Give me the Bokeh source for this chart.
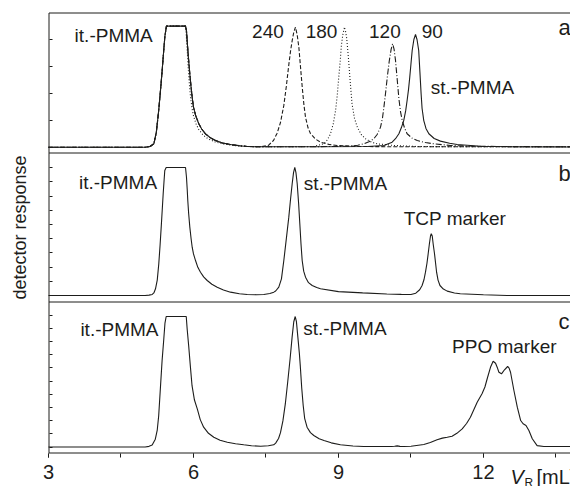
import numpy as np
from bokeh.plotting import figure
from bokeh.models import (Range1d, LinearAxis, FixedTicker, SingleIntervalTicker,
                          ColumnDataSource)
from bokeh.core.properties import value
from bokeh.embed import file_html
from bokeh.resources import INLINE

FONT = "Liberation Sans"
INK = "#1d1d1b"

# elution volume axis [mL]
X_START, X_END = 3.0, 13.8

# ---------------- panel a: it.-PMMA with st.-PMMA of different tacticity ----------------
IT_A_RISE = [(3.0, 0), (5.0, 0), (5.10, 0.5), (5.18, 2.8), (5.23, 12), (5.28, 30.3),
             (5.32, 48), (5.352, 63.4), (5.38, 78), (5.406, 90.9), (5.44, 100), (5.835, 100)]
IT_A_TAIL = [(5.855, 96.4), (5.88, 82), (5.90, 71.6), (5.925, 60), (5.95, 49.6),
             (5.975, 40.5), (6.0, 33.1), (6.05, 25.5), (6.11, 19.3), (6.17, 15),
             (6.248, 11.0), (6.35, 7.8), (6.455, 5.5), (6.6, 3.5), (6.766, 2.2),
             (6.95, 1.2), (7.11, 0.6), (7.4, 0.3)]
IT_A_TAIL_180 = [(5.85, 93), (5.87, 80), (5.89, 66), (5.915, 52), (5.94, 41), (5.97, 32),
                 (6.0, 26), (6.05, 19.5), (6.11, 14.5), (6.2, 10), (6.3, 7), (6.45, 4.3),
                 (6.6, 2.8), (6.8, 1.5), (7.0, 0.8), (7.3, 0.3)]

ST_240 = [(7.55, 1.5), (7.655, 5.5), (7.73, 11.5), (7.80, 20.4), (7.869, 34.5), (7.92, 50),
          (7.972, 68), (8.01, 80), (8.042, 88), (8.075, 95), (8.11, 99.2), (8.145, 93),
          (8.18, 82.6), (8.215, 66), (8.25, 49.6), (8.285, 35), (8.318, 24.7), (8.37, 16),
          (8.42, 11.3), (8.52, 6.8), (8.628, 4.2), (8.8, 2.3), (8.97, 1.4), (9.39, 0.6),
          (10.0, 0.4), (11.0, 0.3), (12.0, 0.3), (13.8, 0.4)]
ST_180 = [(8.0, 0.4), (8.49, 0.6), (8.60, 1.8), (8.696, 2.8), (8.77, 6), (8.835, 11.1),
          (8.89, 19), (8.94, 30.3), (8.975, 43), (9.006, 57.9), (9.035, 71), (9.06, 84),
          (9.09, 93), (9.125, 99.2), (9.15, 95), (9.17, 90), (9.19, 81), (9.21, 71.7),
          (9.245, 53), (9.28, 36.1), (9.33, 24), (9.39, 16.5), (9.47, 10.5), (9.56, 6.9),
          (9.68, 4.2), (9.80, 2.8), (10.14, 1.4), (10.6, 0.6), (11.5, 0.3), (13.8, 0.3)]
ST_120 = [(8.5, 0.4), (9.25, 0.8), (9.40, 1.6), (9.524, 2.8), (9.63, 4.5), (9.73, 6.9),
          (9.80, 10.5), (9.87, 16.5), (9.91, 24), (9.94, 33.1), (9.975, 45), (10.01, 57.9),
          (10.05, 71), (10.09, 81), (10.12, 85.5), (10.15, 81), (10.18, 71.7), (10.215, 56),
          (10.25, 40), (10.285, 29), (10.32, 22), (10.37, 15.5), (10.42, 11.1), (10.52, 7.6),
          (10.63, 5.5), (10.8, 3.8), (10.97, 2.8), (11.32, 1.4), (11.8, 0.8), (12.5, 0.5),
          (13.8, 0.3)]
ST_90 = [(8.5, 0.4), (9.6, 0.5), (9.94, 1.4), (10.11, 4.1), (10.18, 7), (10.25, 11.1),
         (10.30, 16), (10.35, 22), (10.39, 30), (10.42, 38.6), (10.45, 48), (10.475, 57.9),
         (10.50, 69), (10.525, 79.9), (10.56, 89), (10.594, 93.1), (10.625, 89), (10.66, 79.9),
         (10.685, 62), (10.71, 44), (10.73, 32), (10.765, 22), (10.81, 15.5), (10.87, 11.1),
         (10.98, 7.2), (11.11, 5), (11.3, 3.2), (11.456, 2.2), (11.94, 0.8), (12.6, 0.3),
         (13.8, 0.2)]

# run label -> (it.-PMMA tail, st.-PMMA peak, dash pattern)
RUNS_A = [
    ("240", IT_A_TAIL, ST_240, "4 2"),
    ("180", IT_A_TAIL_180, ST_180, "1 2"),
    ("120", IT_A_TAIL, ST_120, "6 2 1 2"),
    ("90", IT_A_TAIL, ST_90, "solid"),
]

# ---------------- panel b: it.-PMMA / st.-PMMA with TCP marker ----------------
TRACE_B = [(3.0, 0), (5.0, 0), (5.08, 0.3), (5.146, 0.8), (5.18, 2), (5.214, 5.2), (5.25, 12),
           (5.282, 24.8), (5.31, 40), (5.332, 53.4), (5.355, 68), (5.373, 79.5), (5.39, 89),
           (5.406, 97.7), (5.435, 100), (5.835, 100), (5.855, 92.4), (5.87, 83), (5.882, 74.2),
           (5.90, 64), (5.924, 53.4), (5.95, 44.5), (5.973, 37.7), (6.0, 32.5), (6.042, 27.3),
           (6.09, 22), (6.145, 18.2), (6.21, 14.5), (6.284, 11.7), (6.38, 8.8), (6.491, 6.5),
           (6.62, 4.3), (6.766, 2.6), (6.95, 1.4), (7.111, 0.8), (7.3, 0.6), (7.455, 0.8),
           (7.58, 1.5), (7.662, 2.6), (7.70, 3.5), (7.765, 6.5), (7.82, 13), (7.869, 27.3),
           (7.92, 44), (7.972, 61.2), (8.01, 76), (8.042, 87.3), (8.07, 96), (8.096, 100),
           (8.12, 96), (8.146, 87.3), (8.175, 72), (8.2, 56), (8.225, 40), (8.249, 27.3),
           (8.28, 19), (8.318, 14.3), (8.38, 10), (8.456, 7.8), (8.55, 6.2), (8.628, 5.2),
           (9.0, 3.0), (9.5, 2.0), (10.0, 1.2), (10.3, 0.9), (10.5, 0.8), (10.60, 1.8),
           (10.68, 4.5), (10.73, 7.8), (10.77, 12.5), (10.8, 18.2), (10.83, 25), (10.856, 32.6),
           (10.88, 40), (10.904, 46.5), (10.92, 48.2), (10.94, 46.5), (10.96, 40), (10.987, 32.6),
           (11.01, 25), (11.03, 18.2), (11.06, 12), (11.1, 7.8), (11.17, 5), (11.25, 3.4),
           (11.4, 2), (11.52, 1.3), (12.0, 0.6), (12.49, 0), (13.0, 0), (13.8, 0)]

# ---------------- panel c: it.-PMMA / st.-PMMA with PPO marker ----------------
TRACE_C = [(3.0, 0), (5.0, 0), (5.08, 0.5), (5.145, 1.5), (5.21, 6), (5.25, 13), (5.28, 24),
           (5.32, 48), (5.35, 66), (5.386, 83), (5.41, 95), (5.435, 100), (5.85, 100),
           (5.87, 90), (5.9, 77.8), (5.935, 62), (5.97, 47), (6.02, 36), (6.08, 29), (6.14, 21),
           (6.21, 15.2), (6.31, 10.5), (6.42, 7.5), (6.55, 5.2), (6.70, 3.7), (6.87, 2.5),
           (7.04, 1.7), (7.2, 1.0), (7.39, 0.6), (7.55, 1.0), (7.66, 1.7), (7.70, 3.0),
           (7.76, 6.5), (7.80, 11), (7.85, 20), (7.90, 33), (7.95, 50), (8.0, 68), (8.04, 84),
           (8.075, 96), (8.105, 100), (8.13, 96), (8.16, 84), (8.19, 72), (8.21, 62), (8.24, 45),
           (8.27, 31.8), (8.30, 22), (8.35, 15.2), (8.42, 11), (8.49, 8.8), (8.60, 6.3),
           (8.70, 5), (8.85, 3.2), (9.04, 1.7), (9.3, 0.8), (9.52, 0.4), (9.87, 0.4), (10.1, 0.4),
           (10.16, 0.6), (10.215, 0.9), (10.27, 0.5), (10.35, 0.4), (10.5, 0.6), (10.766, 1.9),
           (10.9, 3.5), (11.04, 5.5), (11.15, 6.8), (11.25, 7.5), (11.35, 8.3), (11.45, 10.5),
           (11.56, 13.9), (11.65, 18), (11.73, 22.8), (11.80, 28.5), (11.87, 34.3),
           (11.97, 40.8), (12.03, 46), (12.077, 52.3), (12.145, 61.1), (12.2, 65.7),
           (12.25, 64.2), (12.29, 60.5), (12.32, 57.3), (12.373, 56.1), (12.435, 59.2),
           (12.50, 61.7), (12.53, 60.5), (12.56, 57.3), (12.63, 43.3), (12.70, 30.5),
           (12.77, 20.3), (12.82, 17.8), (12.88, 16.5), (12.94, 12.6), (13.01, 6.3),
           (13.11, 1.1), (13.25, 0.4), (13.8, 0.4)]

# ---------------- annotations: (text, x, y at mid-height, align) ----------------
TEXT_A = [("it.-PMMA", 3.54, 91.9, "left"), ("240", 7.54, 95.6, "center"),
          ("180", 8.65, 95.6, "center"), ("120", 9.96, 95.6, "center"),
          ("90", 10.94, 95.6, "center"), ("st.-PMMA", 10.91, 49.6, "left")]
TEXT_B = [("it.-PMMA", 3.63, 87.9, "left"), ("st.-PMMA", 8.28, 87.3, "left"),
          ("TCP marker", 10.35, 60.5, "left")]
TEXT_C = [("it.-PMMA", 3.66, 90.0, "left"), ("st.-PMMA", 8.27, 91.0, "left"),
          ("PPO marker", 11.35, 77.0, "left")]
PANEL_LETTERS = [("a", 13.55, 98.5), ("b", 13.55, 95.1), ("c", 13.55, 96.2)]

# inward minor ticks on the response axis of each panel
TICKS_A = [0, 22.2, 44.4, 66.6, 88.8]
TICKS_B = [0, 11.1, 22.2, 33.3, 44.4, 55.5, 66.6, 77.7, 88.8, 99.9]
TICKS_C = [0, 10.1, 20.2, 30.3, 40.4, 50.5, 60.6, 70.7, 80.8, 90.9, 101.0]

# ---------------- layout: the plotting area fills the whole canvas ----------------
W, H = 570, 486
PX_PER_ML = 48.33
AXIS_X_PX = 48
# band of each panel in canvas pixels (top, bottom) and its visible response window
BANDS = {"a": (12, 152, -4.4, 111.3), "b": (152, 301, -4.7, 111.7), "c": (301, 452, -4.2, 111.5)}
RANGE_OF = {"a": "a", "b": "default", "c": "c"}


def band_range(top_px, bot_px, vmin, vmax):
    per_px = (vmax - vmin) / (bot_px - top_px)
    return Range1d(vmin - (H - bot_px) * per_px, vmax + top_px * per_px)


def value_at(panel, px):
    top_px, bot_px, vmin, vmax = BANDS[panel]
    return vmax - (px - top_px) * (vmax - vmin) / (bot_px - top_px)


x_view = Range1d(X_START - AXIS_X_PX / PX_PER_ML, X_START + (W - AXIS_X_PX) / PX_PER_ML)

p = figure(width=W, height=H, x_range=x_view, y_range=band_range(*BANDS["b"]),
           min_border=0, min_border_left=0, min_border_right=0,
           min_border_top=0, min_border_bottom=0,
           toolbar_location=None, output_backend="svg",
           x_axis_location=None, y_axis_location=None,
           outline_line_color=None, background_fill_color="white",
           border_fill_color="white")
p.extra_y_ranges = {"a": band_range(*BANDS["a"]), "c": band_range(*BANDS["c"])}
p.xgrid.visible = False
p.ygrid.visible = False

# frame lines (drawn on pixel centres)
x_left = X_START + 0.5 / PX_PER_ML
y_bottom_b = value_at("b", 452.5)
p.line([x_left, x_left], [y_bottom_b, value_at("b", 12.5)], line_color=INK, line_width=1)
for panel, px in (("a", 12.5), ("a", 152.5), ("b", 301.5), ("b", 452.5)):
    p.line([x_left, X_END + 1], [value_at(panel, px)] * 2, y_range_name=RANGE_OF[panel],
           line_color=INK, line_width=1)

# elution volume axis, fixed at the bottom of panel c
xa = LinearAxis(ticker=SingleIntervalTicker(interval=3, num_minor_ticks=2),
                fixed_location=y_bottom_b, axis_line_color=None,
                major_tick_in=0, major_tick_out=4, minor_tick_in=0, minor_tick_out=4,
                major_tick_line_color=INK, minor_tick_line_color=INK,
                major_label_text_font=FONT, major_label_text_font_size="20px",
                major_label_text_color=INK, major_label_standoff=8)
p.add_layout(xa, "below")

# response axes: one per panel, ticks pointing inwards, no labels
for panel, ticks in (("b", TICKS_B), ("a", TICKS_A), ("c", TICKS_C)):
    ax = LinearAxis(y_range_name=RANGE_OF[panel],
                    ticker=FixedTicker(ticks=ticks, minor_ticks=[]),
                    fixed_location=x_left, axis_line_color=None,
                    major_tick_in=3, major_tick_out=0, minor_tick_in=0, minor_tick_out=0,
                    major_tick_line_color=INK, major_label_text_color=None)
    p.add_layout(ax, "left")

# panel a runs
for label, tail, peak, dash in RUNS_A:
    xs, ys = zip(*(IT_A_RISE + tail + peak))
    p.line(list(xs), list(ys), y_range_name="a", line_color=INK, line_width=1.1,
           line_dash=dash)

for panel, trace in (("b", TRACE_B), ("c", TRACE_C)):
    xs, ys = zip(*trace)
    p.line(list(xs), list(ys), y_range_name=RANGE_OF[panel], line_color=INK, line_width=1.1)


def add_texts(items, panel, size="19px"):
    for align in ("left", "center"):
        sel = [t for t in items if t[3] == align]
        if not sel:
            continue
        src = ColumnDataSource(dict(text=[t[0] for t in sel], x=[t[1] for t in sel],
                                    y=[t[2] for t in sel]))
        p.text(x="x", y="y", text="text", source=src, y_range_name=RANGE_OF[panel],
               text_font=value(FONT), text_font_size=size, text_color=INK,
               text_align=align, text_baseline="middle")


add_texts(TEXT_A, "a")
add_texts(TEXT_B, "b")
add_texts(TEXT_C, "c")

for (letter, lx, ly), panel in zip(PANEL_LETTERS, ("a", "b", "c")):
    p.text(x=[lx], y=[ly], text=[letter], y_range_name=RANGE_OF[panel],
           text_font=value(FONT), text_font_size="22px", text_color=INK,
           text_align="left", text_baseline="middle")

# axis titles
p.text(x=[X_START - 28.5 / PX_PER_ML], y=[value_at("b", 227)], text=["detector response"],
       angle=np.pi / 2, text_font=value(FONT), text_font_size="18px", text_color=INK,
       text_align="center", text_baseline="middle")
p.text(x=[X_START + 462 / PX_PER_ML], y=[value_at("b", 476.5)], text=["V"],
       text_font=value(FONT), text_font_style="italic", text_font_size="20px",
       text_color=INK, text_align="left", text_baseline="middle")
p.text(x=[X_START + 476 / PX_PER_ML], y=[value_at("b", 482)], text=["R"],
       text_font=value(FONT), text_font_size="12px", text_color=INK,
       text_align="left", text_baseline="middle")
p.text(x=[X_START + 488 / PX_PER_ML], y=[value_at("b", 476.5)], text=["[mL]"],
       text_font=value(FONT), text_font_size="20px", text_color=INK,
       text_align="left", text_baseline="middle")

open("out.html", "w").write(file_html(p, INLINE))
